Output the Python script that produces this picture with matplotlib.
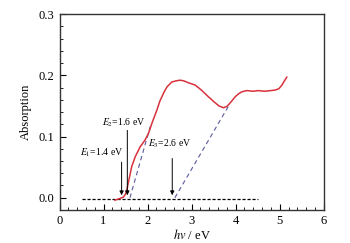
import matplotlib
matplotlib.use("Agg")
import matplotlib.pyplot as plt
from matplotlib.ticker import MultipleLocator, FormatStrFormatter

plt.rcParams['font.family'] = ['Liberation Serif', 'DejaVu Serif']
plt.rcParams['mathtext.fontset'] = 'stix'

# Absorption spectrum
energy = [1.26, 1.30, 1.38, 1.45, 1.50, 1.53, 1.59, 1.64, 1.72, 1.83, 1.94, 2.02, 2.10,
          2.21, 2.28, 2.37, 2.44, 2.55, 2.65, 2.74, 2.82, 2.92, 3.08, 3.22, 3.38, 3.52,
          3.62, 3.72, 3.80, 3.90, 3.99, 4.07, 4.14, 4.25, 4.40, 4.51, 4.65, 4.80,
          4.90, 4.98, 5.05, 5.10, 5.16]
absorb = [-0.004, -0.003, -0.001, 0.001, 0.006, 0.013, 0.034, 0.051, 0.067, 0.083, 0.094,
          0.105, 0.122, 0.143, 0.158, 0.172, 0.181, 0.189, 0.191, 0.192, 0.191, 0.188,
          0.184, 0.176, 0.165, 0.156, 0.150, 0.147, 0.149, 0.157, 0.165, 0.170, 0.173,
          0.175, 0.174, 0.175, 0.174, 0.175, 0.176, 0.178, 0.184, 0.190, 0.197]

# tangent lines
tan1_x = [1.60, 2.06]
tan1_y = [0.0, 0.116]
tan2_x = [2.62, 3.84]
tan2_y = [0.0, 0.150]
base_x = [0.5, 4.5]
base_y = [-0.002, -0.002]

# arrows: x, y_start
arrow_x = [1.41, 1.54, 2.56]
arrow_top = [0.058, 0.110, 0.064]
labels = [r"$E_1$=1.4 eV", r"$E_2$=1.6 eV", r"$E_3$=2.6 eV"]
label_x = [0.47, 0.97, 2.02]
label_y = [0.073, 0.1225, 0.088]

fig = plt.figure(figsize=(3.5, 2.43), dpi=100)
ax = fig.add_axes([0.170, 0.136, 0.755, 0.806])

ax.plot(base_x, base_y, color='black', lw=0.9, ls=(0, (2.5, 1.5)))
ax.plot(tan1_x, tan1_y, color='#5a5a9e', lw=0.8, ls=(0, (4, 3)))
ax.plot(tan2_x, tan2_y, color='#5a5a9e', lw=0.8, ls=(0, (4, 3)))
ax.plot(energy, absorb, color='#d8323c', lw=1.1)

for x, yt in zip(arrow_x, arrow_top):
    ax.annotate("", xy=(x, 0.004), xytext=(x, yt),
                arrowprops=dict(arrowstyle='-|>', color='black', lw=0.7,
                                mutation_scale=6, shrinkA=0, shrinkB=0))
for t, x, y in zip(labels, label_x, label_y):
    ax.text(x, y, t, fontsize=7, ha='left', va='center')

ax.set_xlim(0, 6)
ax.set_ylim(-0.02, 0.3)
ax.xaxis.set_major_locator(MultipleLocator(1))
ax.xaxis.set_minor_locator(MultipleLocator(0.2))
ax.yaxis.set_major_locator(MultipleLocator(0.1))
ax.yaxis.set_minor_locator(MultipleLocator(0.02))
ax.yaxis.set_major_formatter(FormatStrFormatter('%.1f'))
ax.tick_params(which='both', direction='in', top=False, right=False, labelsize=9)
ax.tick_params(which='major', length=4, width=0.8)
ax.tick_params(which='minor', length=2, width=0.6)
for s in ax.spines.values():
    s.set_color('#333333')
    s.set_linewidth(1.0)

ax.set_xlabel(r"$hv$ / eV", fontsize=9, labelpad=1)
ax.set_ylabel("Absorption", fontsize=9, labelpad=5)

fig.savefig("out.png", dpi=100)
